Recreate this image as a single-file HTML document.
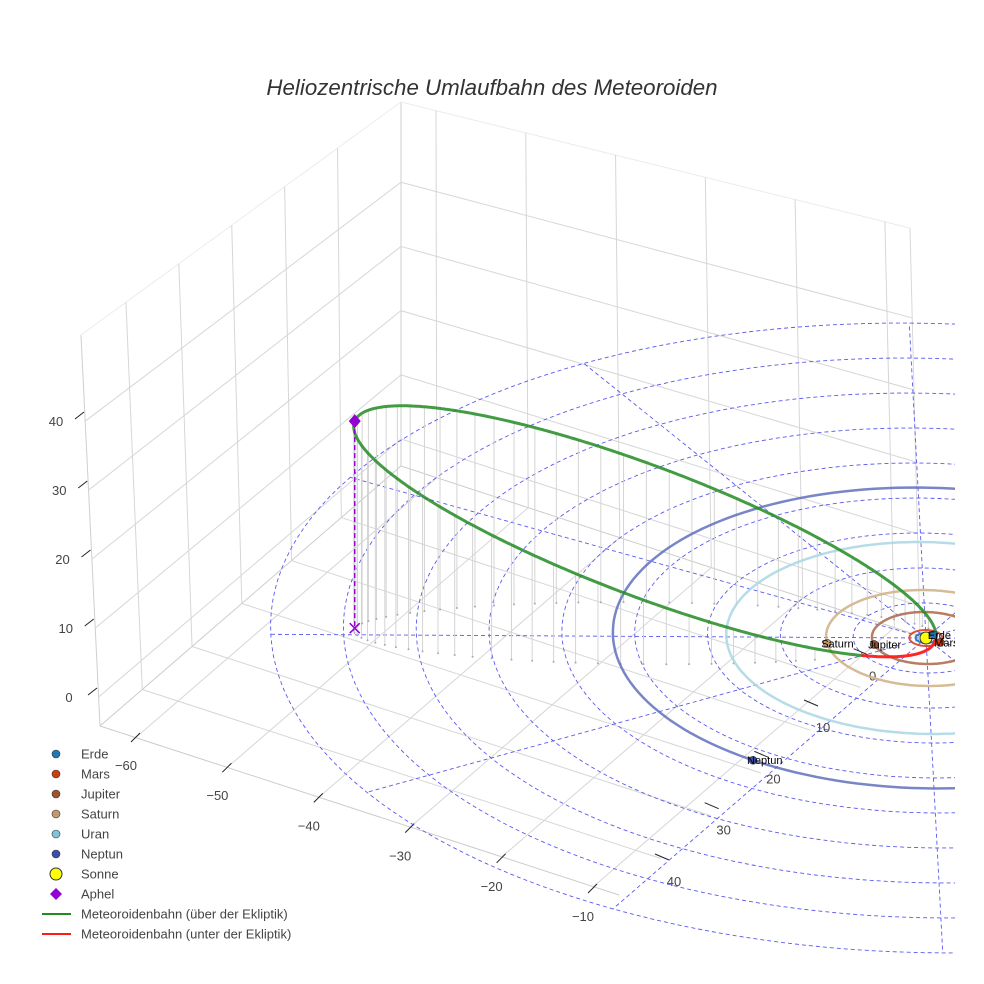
<!DOCTYPE html>
<html><head><meta charset="utf-8"><style>
html,body{margin:0;padding:0;background:#fff;}
svg{display:block;font-family:"Liberation Sans",sans-serif;}
</style></head>
<body>
<svg id="chart" width="984" height="984" viewBox="0 0 984 984" xmlns="http://www.w3.org/2000/svg">
<defs><clipPath id="clip"><rect x="0" y="0" width="955" height="984"/></clipPath></defs>
<rect x="0" y="0" width="984" height="984" fill="#fff"/>
<text x="492" y="95" text-anchor="middle" font-size="22.3" font-style="italic" fill="#333">Heliozentrische Umlaufbahn des Meteoroiden</text>
<g id="box"></g>
<g id="axes"></g>
<g id="data" clip-path="url(#clip)"></g>
<g id="legend"></g>
</svg>
<script>
// ---- data ----
const planetNames = ['Erde','Mars','Jupiter','Saturn','Uran','Neptun'];
const planetRadius = [1.0, 1.6, 5.2, 9.6, 19.2, 30.1];
const planetAngleDeg = [-70, 3, 135, 143, -30, 95];
const aphelion = [-48.2, 26.3, 30.0];
const perihelionDist = [1.0];
const nodeLongitudeDeg = [120];
const ringRadii = [7, 14, 21, 28, 35, 42, 49, 56, 63];
const radialAnglesDeg = [0, 30, 60, 90, 120, 150, 180, 210, 240, 270, 300, 330];
const xTicks = [-60, -50, -40, -30, -20, -10];
const yTicks = [0, 10, 20, 30, 40];
const zTicks = [0, 10, 20, 30, 40];
const xTickLabels = ['\u221260','\u221250','\u221240','\u221230','\u221220','\u221210'];
const yTickLabels = ['0','10','20','30','40'];
const zTickLabels = ['0','10','20','30','40'];

// ---- styles ----
const planetColor = ['#1f77b4','#cc3d10','#a0522d','#c49a6c','#7fc4d8','#3a4fa8'];
const orbitColor = ['#1f77b4','#e04020','#b07050','#d2b48c','#add8e6','#5667b8'];

const NS = 'http://www.w3.org/2000/svg';
function mk(tag, attrs, parent){
  const e = document.createElementNS(NS, tag);
  for (const k in attrs) e.setAttribute(k, attrs[k]);
  parent.appendChild(e);
  return e;
}
function proj(x,y,z){ return [926 + 9.14*x - 4.97*y, 638 + 2.55*x + 4.3*y - 6.9*z]; }
function pts(arr){ return arr.map(p=>p[0].toFixed(1)+','+p[1].toFixed(1)).join(' '); }

// ---- box geometry (screen) ----
const Lb=[100,726], Lt=[81,335], Bb=[401,466], Bt=[401,102], Rb=[920,636], Rt=[910,228], Fb=[619,895];
const X0=-63.9, X1=-7.2, Y0=48.5, Y1=-12, Z0=-4.2, Z1=52.5;
function lerp(a,b,t){ return [a[0]+(b[0]-a[0])*t, a[1]+(b[1]-a[1])*t]; }
const box = document.getElementById('box');
function gl(p,q,name,col,w){
  const l = mk('line',{x1:p[0],y1:p[1],x2:q[0],y2:q[1],stroke:col||'#d6d6d6','stroke-width':w||1},box);
  
  
}
gl(Lb,Lt,'left-edge','#cfcfcf'); gl(Bb,Bt,'back-edge','#cfcfcf'); gl(Rb,Rt,'right-edge','#d8d8d8');
gl(Lt,Bt,'top-left-edge','#ececec'); gl(Bt,Rt,'top-right-edge','#ececec');
gl(Lb,Fb,'floor-front-left-edge','#cccccc'); gl(Lb,Bb,'floor-back-left-edge','#cccccc'); gl(Bb,Rb,'floor-back-right-edge','#cccccc');
zTicks.forEach(z=>{
  const h=(z-Z0)/(Z1-Z0);
  gl(lerp(Lb,Lt,h), lerp(Bb,Bt,h), 'z-grid-left-wall');
  gl(lerp(Bb,Bt,h), lerp(Rb,Rt,h), 'z-grid-right-wall');
});
yTicks.forEach(y=>{
  const s=(Y0-y)/(Y0-Y1);
  gl(lerp(Lb,Bb,s), lerp(Lt,Bt,s), 'y-grid-left-wall');
  gl(lerp(Fb,Rb,s), lerp(Lb,Bb,s), 'y-grid-floor');
});
xTicks.forEach(x=>{
  const t=(x-X0)/(X1-X0);
  gl(lerp(Bb,Rb,t), lerp(Bt,Rt,t), 'x-grid-right-wall');
  gl(lerp(Lb,Fb,t), lerp(Bb,Rb,t), 'x-grid-floor');
});

// ---- axis ticks ----
const axes = document.getElementById('axes');
function xTickPos(x){ return lerp([136,737],[593,888],(x+60)/50); }
function yTickPos(y){ return lerp([661,857],[810,703],(40-y)/30); }
function zTickPos(z){ return lerp([94,691],[81,415],z/40); }
xTicks.forEach((x,i)=>{
  const p=xTickPos(x);
  const l=mk('line',{x1:p[0]+4,y1:p[1]-4,x2:p[0]-5,y2:p[1]+5,stroke:'#222','stroke-width':1},axes);
   
  const t=mk('text',{x:p[0]-10,y:p[1]+33,'text-anchor':'middle','font-size':13,fill:'#444'},axes);
  t.textContent=xTickLabels[i];
   
});
yTicks.forEach((y,i)=>{
  const p=yTickPos(y);
  const l=mk('line',{x1:p[0]-6,y1:p[1]-3,x2:p[0]+8,y2:p[1]+3,stroke:'#222','stroke-width':1},axes);
   
  const t=mk('text',{x:p[0]+13,y:p[1]+29,'text-anchor':'middle','font-size':13,fill:'#444'},axes);
  t.textContent=yTickLabels[i];
   
});
zTicks.forEach((z,i)=>{
  const p=zTickPos(z);
  const l=mk('line',{x1:p[0]-6,y1:p[1]+4,x2:p[0]+3,y2:p[1]-3,stroke:'#222','stroke-width':1},axes);
   
  const t=mk('text',{x:p[0]-25,y:p[1]+11,'text-anchor':'middle','font-size':13,fill:'#444'},axes);
  t.textContent=zTickLabels[i];
   
});

// ---- data layer ----
const g = document.getElementById('data');
ringRadii.forEach(r=>{
  const a=[]; for(let k=0;k<=180;k++){const t=k/180*2*Math.PI; a.push(proj(r*Math.cos(t),r*Math.sin(t),0));}
  const e=mk('polyline',{points:pts(a),fill:'none',stroke:'#5a5af0','stroke-width':0.9,'stroke-dasharray':'4,3'},g);
   
});
const rMax = ringRadii[ringRadii.length-1];
radialAnglesDeg.forEach(d=>{
  const t=d*Math.PI/180; const p=proj(0,0,0), q=proj(rMax*Math.cos(t),rMax*Math.sin(t),0);
  const e=mk('line',{x1:p[0],y1:p[1],x2:q[0],y2:q[1],stroke:'#5a5af0','stroke-width':0.9,'stroke-dasharray':'4,3'},g);
   
});

const Q = Math.hypot(aphelion[0],aphelion[1],aphelion[2]);
const q = perihelionDist[0];
const aS = (Q+q)/2, ecc = (Q-q)/(Q+q), bS = aS*Math.sqrt(1-ecc*ecc);
const P = aphelion.map(v=>-v/Q);
const nl = nodeLongitudeDeg[0]*Math.PI/180;
const n = [Math.cos(nl), Math.sin(nl), 0];
const nP = n[0]*P[0]+n[1]*P[1]+n[2]*P[2];
let W = n.map((v,i)=>v-nP*P[i]); const wl=Math.hypot(W[0],W[1],W[2]); W=W.map(v=>v/wl);
const orbit=[];
for(let k=0;k<=720;k++){
  const E=k/720*2*Math.PI;
  const c=aS*(Math.cos(E)-ecc), s=bS*Math.sin(E);
  orbit.push([c*P[0]+s*W[0], c*P[1]+s*W[1], c*P[2]+s*W[2]]);
}
for(let k=0;k<720;k+=9){
  const o=orbit[k]; if(o[2]<1) continue;
  const a=proj(o[0],o[1],o[2]), b=proj(o[0],o[1],0);
  const l=mk('line',{x1:a[0],y1:a[1],x2:b[0],y2:b[1],stroke:'#d4d4d4','stroke-width':1},g);
   
  const d=mk('circle',{cx:b[0],cy:b[1],r:1,fill:'#aaa'},g);
   
}
planetRadius.forEach((r,i)=>{
  const a=[]; for(let k=0;k<=180;k++){const t=k/180*2*Math.PI; a.push(proj(r*Math.cos(t),r*Math.sin(t),0));}
  const e=mk('polyline',{points:pts(a),fill:'none',stroke:orbitColor[i],'stroke-width':i<2?2:2.5,opacity:i==5?0.8:0.9},g);
   
});
let seg=[], segAbove=orbit[0][2]>=0;
function flush(){
  if(seg.length>1){
    const e=mk('polyline',{points:pts(seg),fill:'none',stroke:segAbove?'#228b22':'#ff1a1a','stroke-width':3,opacity:segAbove?0.85:0.95,'stroke-linejoin':'round'},g);
    
    
  }
}
orbit.forEach(o=>{
  const ab=o[2]>=0; const p=proj(o[0],o[1],o[2]);
  if(ab!==segAbove){ seg.push(p); flush(); seg=[p]; segAbove=ab; } else seg.push(p);
});
flush();
const ap=proj(aphelion[0],aphelion[1],aphelion[2]), ag=proj(aphelion[0],aphelion[1],0);
let e=mk('line',{x1:ap[0],y1:ap[1],x2:ag[0],y2:ag[1],stroke:'#9400d3','stroke-width':1.5,'stroke-dasharray':'5,3'},g);
 
e=mk('path',{d:`M${ag[0]-5},${ag[1]-5}L${ag[0]+5},${ag[1]+5}M${ag[0]-5},${ag[1]+5}L${ag[0]+5},${ag[1]-5}`,stroke:'#9400d3','stroke-width':1.5},g);
 
e=mk('path',{d:`M${ap[0]},${ap[1]-7}L${ap[0]+6},${ap[1]}L${ap[0]},${ap[1]+7}L${ap[0]-6},${ap[1]}Z`,fill:'#9400d3'},g);
 
const sp=proj(0,0,0);
e=mk('circle',{cx:sp[0],cy:sp[1],r:6,fill:'#ffff00',stroke:'#333','stroke-width':1},g);
 
planetNames.forEach((nm,i)=>{
  const t=planetAngleDeg[i]*Math.PI/180;
  const p=proj(planetRadius[i]*Math.cos(t), planetRadius[i]*Math.sin(t), 0);
  const c=mk('circle',{cx:p[0],cy:p[1],r:4,fill:planetColor[i],stroke:'#333','stroke-width':0.6},g);
   
  const tx=mk('text',{x:p[0]-6,y:p[1]+4,'font-size':11,fill:'#000'},g);
  tx.textContent=nm;
   
});

// ---- legend ----
const lg=document.getElementById('legend');
const legendLabels=['Erde','Mars','Jupiter','Saturn','Uran','Neptun','Sonne','Aphel','Meteoroidenbahn (über der Ekliptik)','Meteoroidenbahn (unter der Ekliptik)'];
legendLabels.forEach((lab,i)=>{
  const y=754+i*20;
  const item=mk('g',{},lg);
   
  if(i<6){ const c=mk('circle',{cx:56,cy:y,r:4,fill:planetColor[i],stroke:'#333','stroke-width':0.6},item);
      }
  else if(i===6){ const c=mk('circle',{cx:56,cy:y,r:6,fill:'#ffff00',stroke:'#333','stroke-width':1},item);
      }
  else if(i===7){ const c=mk('path',{d:`M56,${y-6}L62,${y}L56,${y+6}L50,${y}Z`,fill:'#9400d3'},item);
      }
  else { const c=mk('line',{x1:42,y1:y,x2:71,y2:y,stroke:i===8?'#228b22':'#ff1a1a','stroke-width':2},item);
      }
  const t=mk('text',{x:81,y:y+4.5,'font-size':13,fill:'#444'},item);
  t.textContent=lab;
   
});
</script>
</body></html>
